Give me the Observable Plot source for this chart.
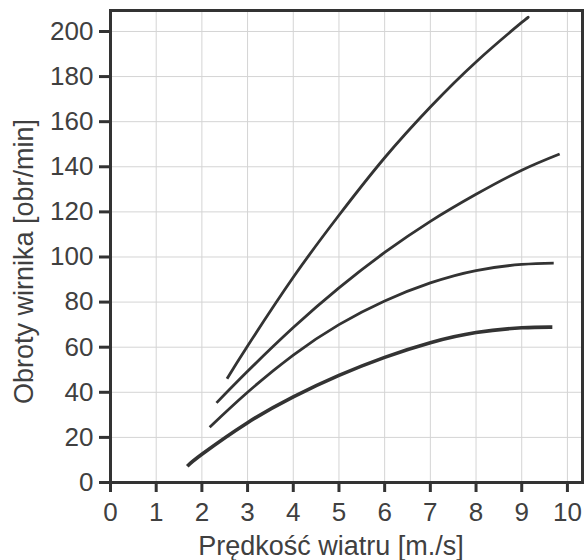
<!DOCTYPE html>
<html>
<head>
<meta charset="utf-8">
<script src="https://cdn.jsdelivr.net/npm/d3@7"></script>
<script src="https://cdn.jsdelivr.net/npm/@observablehq/plot@0.6"></script>
<style>
  html, body { margin: 0; padding: 0; background: #fff; }
</style>
</head>
<body>
<div id="chart"></div>
<script>
const xTicks = [0, 1, 2, 3, 4, 5, 6, 7, 8, 9, 10];
const yTicks = [0, 20, 40, 60, 80, 100, 120, 140, 160, 180, 200];
const xLabel = "Prędkość wiatru [m./s]";
const yLabel = "Obroty wirnika [obr/min]";

const speed1 = [2.55, 3, 4, 5, 6, 7, 8, 9, 9.1];
const rpm1   = [46, 60.5, 91, 118.5, 144, 166.5, 186.5, 204, 205.5];

const speed2 = [2.32, 3, 4, 5, 6, 7, 8, 9, 9.83];
const rpm2   = [35.3, 49.3, 68.7, 86.3, 102, 115.8, 127.8, 138.5, 145.7];

const speed3 = [2.17, 3, 4, 5, 6, 7, 8, 9, 9.7];
const rpm3   = [24.5, 40, 56.5, 70, 80.5, 88.5, 94, 96.7, 97.3];

const speed4 = [1.68, 2, 3, 4, 5, 6, 7, 8, 9, 9.67];
const rpm4   = [7.2, 12.5, 26.5, 38, 47.5, 55.5, 62, 66.5, 68.6, 68.9];

const series = [
  {id: "s1", xs: speed1, ys: rpm1, w: 2.8},
  {id: "s2", xs: speed2, ys: rpm2, w: 2.8},
  {id: "s3", xs: speed3, ys: rpm3, w: 2.8},
  {id: "s4", xs: speed4, ys: rpm4, w: 3.6}
];
const rows = series.flatMap(s => s.xs.map((x, i) => ({series: s.id, x, y: s.ys[i]})));

const ink = "#333333";
const txt = "#404040";

const chart = Plot.plot({
  width: 584,
  height: 560,
  marginLeft: 110,
  marginRight: 2,
  marginTop: 10,
  marginBottom: 78,
  x: {domain: [0, 10.33]},
  y: {domain: [0, 209.3]},
  style: {fontFamily: "'Liberation Sans', Arial, sans-serif", color: txt, background: "#fff"},
  marks: [
    Plot.gridX(xTicks, {stroke: "#d4d4d4", strokeOpacity: 1, strokeWidth: 1}),
    Plot.gridY(yTicks, {stroke: "#d4d4d4", strokeOpacity: 1, strokeWidth: 1}),
    ...series.map(s => Plot.line(rows.filter(r => r.series === s.id), {
      x: "x", y: "y", stroke: ink, strokeWidth: s.w, curve: "natural", strokeLinecap: "butt"
    })),
    Plot.frame({stroke: ink, strokeWidth: 3}),
    Plot.axisX(xTicks, {tickSize: 10, tickPadding: 10, fontSize: 26, strokeWidth: 3, stroke: ink, fill: txt, label: null}),
    Plot.axisY(yTicks, {tickSize: 11, tickPadding: 6, fontSize: 26, strokeWidth: 3, stroke: ink, fill: txt, label: null}),
    Plot.text([xLabel], {text: d => d, frameAnchor: "bottom", dy: 64, dx: -15.5, fontSize: 27, fill: txt, textAnchor: "middle", lineAnchor: "middle"}),
    Plot.text([yLabel], {text: d => d, frameAnchor: "left", dx: -86, dy: 15, rotate: -90, fontSize: 27, fill: txt, textAnchor: "middle", lineAnchor: "middle"})
  ]
});
document.getElementById("chart").appendChild(chart);
</script>
</body>
</html>
